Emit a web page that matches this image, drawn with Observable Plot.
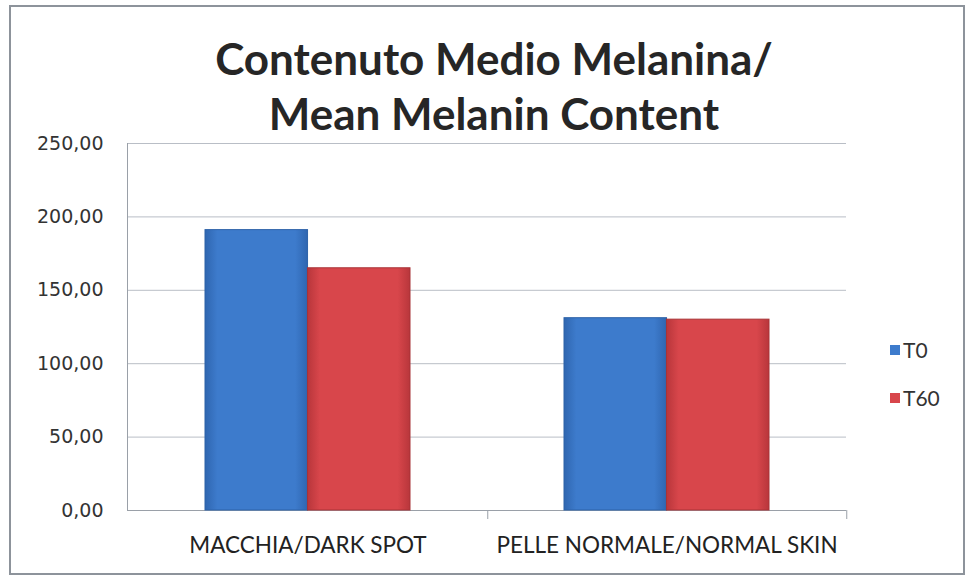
<!DOCTYPE html>
<html><head><meta charset="utf-8">
<script src="https://cdn.jsdelivr.net/npm/d3@7"></script>
<script src="https://cdn.jsdelivr.net/npm/@observablehq/plot@0.6"></script>
<style>
body{margin:0;background:#fff;}
#wrap{position:relative;width:970px;height:585px;overflow:hidden;background:#fff;}
#chart{position:absolute;left:0;top:0;}
#frame{position:absolute;left:9px;top:5px;width:956px;height:570px;border:2px solid #8d939b;box-sizing:border-box;pointer-events:none;}
#title{position:absolute;left:0;width:988px;top:31px;text-align:center;font:700 44px Lato;line-height:55px;color:#262626;}
#legend{position:absolute;left:890px;top:337px;font:21px Lato;color:#333;line-height:26px;}
#legend .it{display:flex;align-items:center;margin-bottom:22px;}
#legend .sw{width:10px;height:10px;margin-right:3px;}
</style></head><body>
<div id="wrap"><div id="chart"></div><div id="title">Contenuto Medio Melanina/<br>Mean Melanin Content</div><div id="legend"></div><div id="frame"></div></div>
<script>
const categories = ["MACCHIA/DARK SPOT", "PELLE NORMALE/NORMAL SKIN"];
const seriesNames = ["T0", "T60"];
const t0Values = [191, 131];
const t60Values = [165, 130];
const yTicks = [0, 50, 100, 150, 200, 250];
const seriesColors = ["#3d7bcc", "#d8464b"];

const data = categories.flatMap((c, i) => [
  {category: c, series: "T0", value: t0Values[i]},
  {category: c, series: "T60", value: t60Values[i]}
]);

const W = 970, H = 585, mL = 127, mR = 124, mT = 143, mB = 75;
const pad = 0.43;
const step = (W - mL - mR) / categories.length;
const half = step * (1 - pad) / 2;

const fmt = d => d.toFixed(2).replace(".", ",");

const chart = Plot.plot({
  width: W, height: H,
  marginLeft: mL, marginRight: mR, marginTop: mT, marginBottom: mB,
  style: {background: "none", fontFamily: "Lato", fontSize: "17px", color: "#333", overflow: "visible"},
  x: {domain: categories, paddingInner: pad, paddingOuter: pad / 2, label: null},
  y: {domain: [0, 250], label: null},
  marks: [
    Plot.gridY(yTicks, {stroke: "#b9bec6", strokeOpacity: 1}),
    Plot.ruleY([0], {stroke: "#9aa0a8"}),
    Plot.frame({anchor: "left", stroke: "#9aa0a8"}),
    Plot.ruleX(categories, {x: d => d, dx: step / 2, y1: 0, y2: 0, insetBottom: -9, stroke: "#9aa0a8"}),
    Plot.barY(data.filter(d => d.series === "T0"), {x: "category", y: "value", fill: "url(#gT0)", stroke: "#2d62a8", strokeWidth: 1, insetRight: half}),
    Plot.barY(data.filter(d => d.series === "T60"), {x: "category", y: "value", fill: "url(#gT60)", stroke: "#a83236", strokeWidth: 1, insetLeft: half}),
    Plot.axisY(yTicks, {tickSize: 0, tickPadding: 24, tickFormat: fmt, fontFamily: "DejaVu Sans", fontSize: 19, fill: "#333"}),
    Plot.axisX({tickSize: 0, tickPadding: 27, fontFamily: "Lato", fontSize: 22.5, fill: "#222"})
  ]
});

// gradient defs for the Excel-style bars
const svg = d3.select(chart);
const defs = svg.insert("defs", ":first-child");
function grad(id, edge, mid) {
  const g = defs.append("linearGradient").attr("id", id).attr("x1", "0").attr("x2", "1").attr("y1", "0").attr("y2", "0");
  g.append("stop").attr("offset", "0").attr("stop-color", edge);
  g.append("stop").attr("offset", "0.12").attr("stop-color", mid);
  g.append("stop").attr("offset", "0.88").attr("stop-color", mid);
  g.append("stop").attr("offset", "1").attr("stop-color", edge);
}
grad("gT0", "#2f66b0", seriesColors[0]);
grad("gT60", "#b8363b", seriesColors[1]);

document.getElementById("chart").appendChild(chart);

const legend = document.getElementById("legend");
seriesNames.forEach((s, i) => {
  const it = document.createElement("div"); it.className = "it";
  const sw = document.createElement("span"); sw.className = "sw"; sw.style.background = seriesColors[i];
  const t = document.createElement("span"); t.textContent = s;
  it.appendChild(sw); it.appendChild(t); legend.appendChild(it);
});
</script>
</body></html>
